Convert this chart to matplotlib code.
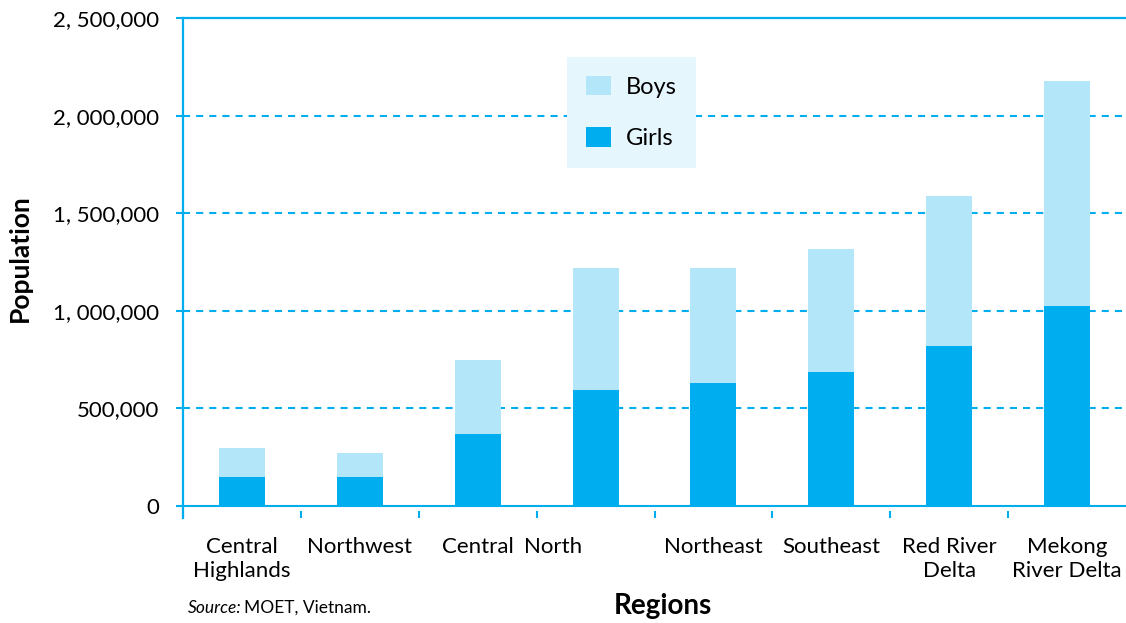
import matplotlib.pyplot as plt
import matplotlib.transforms as mtransforms

plt.rcParams['font.family'] = ['Lato', 'DejaVu Sans']

regions = ['Central\nHighlands', 'Northwest', 'Central', 'North', 'Northeast',
           'Southeast', 'Red River\nDelta', 'Mekong\nRiver Delta']
girls = [148000, 150000, 370000, 594000, 630000, 686000, 820000, 1025000]
boys = [150000, 122000, 378000, 625000, 589000, 631000, 768000, 1152000]
yticks = [0, 500000, 1000000, 1500000, 2000000, 2500000]
ytick_labels = ['0', '500,000', '1, 000,000', '1, 500,000', '2, 000,000', '2, 500,000']

dark = '#00AEEF'
light = '#B3E6F8'

fig = plt.figure(figsize=(11.26, 6.23), dpi=100)
ax = fig.add_axes([183/1126, 1 - 518/623, 1 - 183/1126, 500/623])

x = range(len(regions))
ax.bar(x, girls, width=0.39, color=dark, label='Girls', zorder=3)
ax.bar(x, boys, width=0.39, bottom=girls, color=light, label='Boys', zorder=3)

ax.set_xlim(-0.5, 7.5)
ax.set_ylim(-61500, 2500000)

for v in yticks[1:-1]:
    ax.axhline(v, color=dark, lw=1.5, linestyle=(0, (3.4, 2.9)), zorder=1)
ax.axhline(0, color=dark, lw=1.5, zorder=4)

ax.spines['right'].set_visible(False)
ax.spines['bottom'].set_visible(False)
for s in ['left', 'top']:
    ax.spines[s].set_color(dark)
    ax.spines[s].set_linewidth(1.6)

ax.set_yticks(yticks)
ax.set_yticklabels(ytick_labels)
ax.tick_params(axis='y', length=5, width=1.5, color=dark, pad=12, labelsize=16)

ax.set_xticks([i - 0.5 for i in range(8)], minor=True)
ax.set_xticks(list(x))
ax.set_xticklabels(regions, fontsize=16, linespacing=1.2)
ax.tick_params(axis='x', which='major', length=0, pad=14)
ax.tick_params(axis='x', which='minor', direction='in', length=5, width=1.5, color=dark)

# "North" label sits left of its bar in the original
lbl = ax.get_xticklabels()[3]
lbl.set_transform(lbl.get_transform() + mtransforms.ScaledTranslation(-0.425, 0, fig.dpi_scale_trans))

ax.set_ylabel('Population', fontsize=19, fontweight='bold', va='center')
ax.yaxis.set_label_coords(-163/943, (518 - 258) / 500)
ax.set_xlabel('Regions', fontsize=20, fontweight='bold', va='center')
ax.xaxis.set_label_coords((663 - 183) / 943, -(606 - 518) / 500)

handles, labels = ax.get_legend_handles_labels()
leg = ax.legend(handles[::-1], labels[::-1], loc='upper left',
                bbox_to_anchor=(567/1126, 1 - 57/623), bbox_transform=fig.transFigure,
                fontsize=17, frameon=True, fancybox=False, handlelength=1.06,
                handleheight=0.9, labelspacing=1.25, borderpad=0.8, handletextpad=0.65,
                borderaxespad=0)
leg.get_frame().set_facecolor('#E5F6FD')
leg.get_frame().set_edgecolor('none')
leg.get_frame().set_alpha(1)

fig.text(188/1126, 1 - 608/623, 'Source:', fontsize=12.5, fontstyle='italic', va='center')
fig.text(244/1126, 1 - 608/623, 'MOET, Vietnam.', fontsize=12.5, va='center')

fig.savefig('out.png', dpi=100)
